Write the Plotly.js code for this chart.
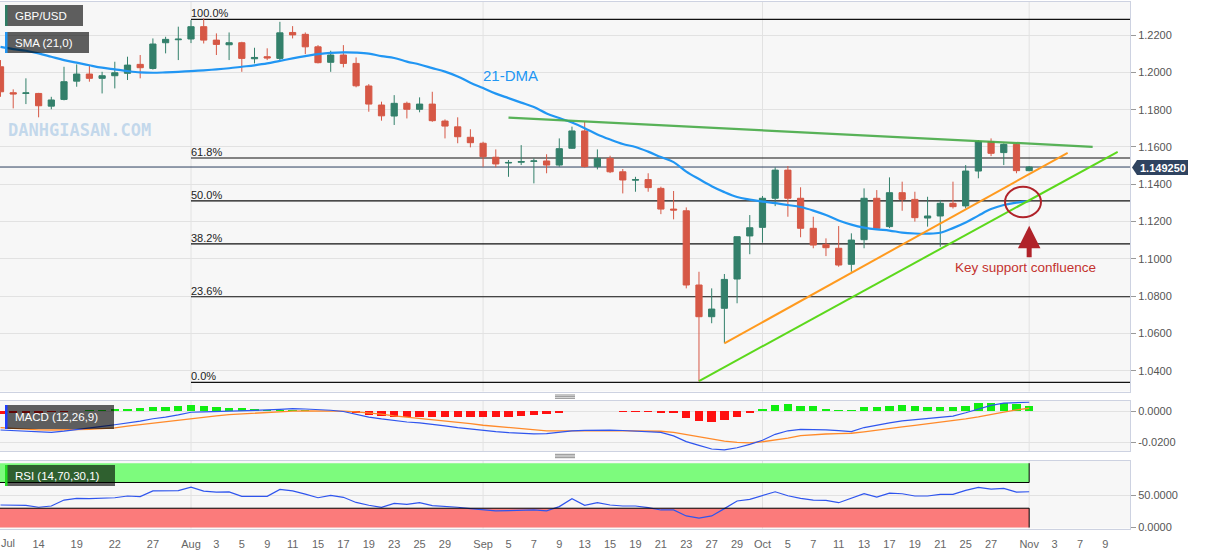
<!DOCTYPE html>
<html><head><meta charset="utf-8">
<script src="https://cdn.plot.ly/plotly-3.0.1.min.js"></script>
<style>html,body{margin:0;padding:0;background:#fff}#chart{width:1207px;height:555px}</style>
</head><body><div id="chart"></div>
<script>
// ---------- DATA ----------
const dates = [
 '2022-07-11','2022-07-12','2022-07-13','2022-07-14','2022-07-15','2022-07-18','2022-07-19','2022-07-20','2022-07-21','2022-07-22',
 '2022-07-25','2022-07-26','2022-07-27','2022-07-28','2022-07-29','2022-08-01','2022-08-02','2022-08-03','2022-08-04','2022-08-05',
 '2022-08-08','2022-08-09','2022-08-10','2022-08-11','2022-08-12','2022-08-15','2022-08-16','2022-08-17','2022-08-18','2022-08-19',
 '2022-08-22','2022-08-23','2022-08-24','2022-08-25','2022-08-26','2022-08-29','2022-08-30','2022-08-31','2022-09-01','2022-09-02',
 '2022-09-05','2022-09-06','2022-09-07','2022-09-08','2022-09-09','2022-09-12','2022-09-13','2022-09-14','2022-09-15','2022-09-16',
 '2022-09-19','2022-09-20','2022-09-21','2022-09-22','2022-09-23','2022-09-26','2022-09-27','2022-09-28','2022-09-29','2022-09-30',
 '2022-10-03','2022-10-04','2022-10-05','2022-10-06','2022-10-07','2022-10-10','2022-10-11','2022-10-12','2022-10-13','2022-10-14',
 '2022-10-17','2022-10-18','2022-10-19','2022-10-20','2022-10-21','2022-10-24','2022-10-25','2022-10-26','2022-10-27','2022-10-28',
 '2022-10-31','2022-11-01'];
const open = [1.2030,1.1891,1.1887,1.1887,1.1819,1.1855,1.1953,1.1991,1.1968,1.1982,
 1.1995,1.2043,1.2021,1.2159,1.2175,1.2179,1.2245,1.2173,1.2148,1.2159,
 1.2073,1.2084,1.2075,1.2214,1.2204,1.2137,1.2054,1.2093,1.2048,1.1927,
 1.1825,1.1766,1.1834,1.1802,1.1830,1.1739,1.1708,1.1652,1.1620,1.1545,
 1.1514,1.1518,1.1523,1.1525,1.1503,1.1593,1.1686,1.1495,1.1539,1.1467,
 1.1422,1.1425,1.1378,1.1267,1.1258,1.0860,1.0690,1.0735,1.0892,1.1123,
 1.1169,1.1325,1.1476,1.1325,1.1164,1.1078,1.1057,1.0971,1.1103,1.1325,
 1.1173,1.1355,1.1319,1.1219,1.1230,1.1298,1.1284,1.1471,1.1628,1.1570,
 1.1614,1.1473];
const high = [1.2066,1.1909,1.1968,1.1890,1.1869,1.2030,1.2043,1.2039,1.2003,1.2057,
 1.2084,1.2093,1.2182,1.2191,1.2245,1.2280,1.2290,1.2209,1.2214,1.2164,
 1.2132,1.2129,1.2271,1.2248,1.2214,1.2146,1.2116,1.2146,1.2080,1.1937,
 1.1843,1.1878,1.1843,1.1866,1.1896,1.1748,1.1759,1.1695,1.1628,1.1587,
 1.1530,1.1610,1.1539,1.1561,1.1646,1.1709,1.1735,1.1587,1.1553,1.1482,
 1.1440,1.1459,1.1387,1.1364,1.1276,1.0931,1.0842,1.0919,1.1119,1.1235,
 1.1337,1.1491,1.1498,1.1384,1.1226,1.1110,1.1176,1.1137,1.1378,1.1369,
 1.1437,1.1414,1.1360,1.1333,1.1316,1.1414,1.1503,1.1637,1.1646,1.1619,
 1.1619,1.1498];
const low = [1.1869,1.1807,1.1830,1.1759,1.1802,1.1850,1.1923,1.1950,1.1887,1.1914,
 1.1959,1.1968,1.2015,1.2102,1.2066,1.2157,1.2155,1.2093,1.2066,1.2003,
 1.2048,1.2066,1.2066,1.2182,1.2098,1.2048,1.2003,1.2027,1.1920,1.1789,
 1.1741,1.1718,1.1753,1.1786,1.1735,1.1646,1.1620,1.1598,1.1494,1.1491,
 1.1440,1.1503,1.1405,1.1459,1.1494,1.1590,1.1490,1.1480,1.1460,1.1351,
 1.1360,1.1360,1.1240,1.1212,1.0842,1.0342,1.0655,1.0548,1.0762,1.1025,
 1.1087,1.1283,1.1226,1.1116,1.1057,1.1015,1.0958,1.0931,1.1057,1.1155,
 1.1165,1.1258,1.1200,1.1173,1.1065,1.1270,1.1271,1.1432,1.1551,1.1503,
 1.1459,1.1470];
const close = [1.1896,1.1884,1.1890,1.1821,1.1852,1.1950,1.1991,1.1968,1.1982,1.1998,
 1.2039,1.2025,1.2152,1.2177,1.2178,1.2245,1.2173,1.2150,1.2159,1.2075,
 1.2080,1.2077,1.2212,1.2201,1.2137,1.2052,1.2093,1.2048,1.1928,1.1830,
 1.1767,1.1834,1.1802,1.1830,1.1741,1.1712,1.1655,1.1623,1.1548,1.1509,
 1.1517,1.1522,1.1525,1.1503,1.1591,1.1686,1.1495,1.1539,1.1467,1.1423,
 1.1425,1.1382,1.1267,1.1262,1.0860,1.0690,1.0731,1.0890,1.1119,1.1167,
 1.1325,1.1476,1.1325,1.1164,1.1074,1.1060,1.0967,1.1101,1.1325,1.1164,
 1.1355,1.1319,1.1221,1.1230,1.1298,1.1280,1.1471,1.1628,1.1566,1.1614,
 1.1473,1.14925];
const sma21 = [1.2137,1.2125,1.2116,1.2102,1.2084,1.2066,1.2052,1.2038,1.2025,1.2016,
 1.2007,1.2000,1.1998,1.2000,1.2003,1.2007,1.2011,1.2016,1.2022,1.2030,
 1.2038,1.2048,1.2062,1.2075,1.2087,1.2098,1.2105,1.2107,1.2106,1.2101,
 1.2087,1.2077,1.2058,1.2042,1.2023,1.2004,1.1978,1.1945,1.1916,1.1886,
 1.1862,1.1838,1.1814,1.1780,1.1755,1.1731,1.1701,1.1667,1.1640,1.1616,
 1.1600,1.1575,1.1546,1.1519,1.1468,1.1428,1.1390,1.1358,1.1332,1.1318,
 1.1307,1.1299,1.1289,1.1278,1.1259,1.1235,1.1206,1.1184,1.1168,1.1158,
 1.1152,1.1141,1.1136,1.1135,1.1140,1.1165,1.1195,1.1232,1.1267,1.1289,
 1.1302,1.1310];
const macdLine = [-0.0120,-0.0124,-0.0128,-0.0132,-0.0135,-0.0127,-0.0118,-0.0108,-0.0097,-0.0086,
 -0.0075,-0.0062,-0.0047,-0.0037,-0.0022,-0.0005,-0.0003,-0.0001,0.0001,0.0004,
 0.0007,0.0010,0.0014,0.0018,0.0016,0.0014,0.0008,0.0000,-0.0018,-0.0036,
 -0.0048,-0.0060,-0.0068,-0.0074,-0.0082,-0.0093,-0.0104,-0.0114,-0.0125,-0.0131,
 -0.0137,-0.0143,-0.0145,-0.0144,-0.0133,-0.0125,-0.0122,-0.0120,-0.0121,-0.0123,
 -0.0126,-0.0130,-0.0135,-0.0158,-0.0195,-0.0220,-0.0243,-0.0249,-0.0235,-0.0213,
 -0.0186,-0.0148,-0.0125,-0.0116,-0.0117,-0.0119,-0.0124,-0.0130,-0.0104,-0.0087,
 -0.0074,-0.0061,-0.0054,-0.0046,-0.0040,-0.0030,-0.0008,0.0018,0.0040,0.0054,
 0.0057,0.0060];
const signalLine = [-0.0105,-0.0111,-0.0116,-0.0119,-0.0120,-0.0120,-0.0119,-0.0116,-0.0111,-0.0106,
 -0.0095,-0.0085,-0.0075,-0.0068,-0.0056,-0.0044,-0.0036,-0.0028,-0.0020,-0.0015,
 -0.0009,-0.0004,0.0000,0.0002,0.0004,0.0005,0.0005,0.0003,-0.0002,-0.0008,
 -0.0017,-0.0028,-0.0036,-0.0044,-0.0052,-0.0060,-0.0069,-0.0079,-0.0089,-0.0097,
 -0.0104,-0.0112,-0.0119,-0.0125,-0.0126,-0.0127,-0.0126,-0.0125,-0.0124,-0.0124,
 -0.0125,-0.0126,-0.0128,-0.0135,-0.0150,-0.0162,-0.0178,-0.0192,-0.0200,-0.0203,
 -0.0196,-0.0186,-0.0173,-0.0156,-0.0150,-0.0146,-0.0143,-0.0141,-0.0132,-0.0120,
 -0.0110,-0.0100,-0.0090,-0.0080,-0.0070,-0.0060,-0.0048,-0.0035,-0.0018,-0.0004,
 0.0010,0.0021];
const macdHist = [-0.0018,-0.0012,-0.0010,-0.0008,-0.0005,-0.0002,0.0004,0.0007,0.0010,0.0013,
 0.0016,0.0022,0.0028,0.0032,0.0036,0.0040,0.0035,0.0030,0.0025,0.0020,
 0.0015,0.0012,0.0010,0.0009,0.0007,0.0005,0.0003,0.0001,-0.0012,-0.0021,
 -0.0028,-0.0034,-0.0037,-0.0035,-0.0034,-0.0034,-0.0035,-0.0036,-0.0037,-0.0037,
 -0.0034,-0.0029,-0.0025,-0.0018,-0.0007,0.0002,0.0001,0.0001,0.0001,-0.0001,
 -0.0001,-0.0004,-0.0010,-0.0012,-0.0040,-0.0062,-0.0070,-0.0057,-0.0035,-0.0010,
 0.0017,0.0040,0.0047,0.0038,0.0033,0.0017,0.0010,0.0011,0.0028,0.0029,
 0.0037,0.0040,0.0036,0.0032,0.0031,0.0031,0.0037,0.0052,0.0055,0.0057,
 0.0049,0.0038];
const rsi = [35,35,34.5,31.5,33.5,42.7,45.4,45,45.5,46.3,
 49,48,57,57.5,57.5,62.8,56.6,55,55.4,48.5,
 49,48.5,59.2,57,52,46.3,50,47,39,34.6,
 31.5,37.6,36,38.6,34,33,31.5,29.4,27.3,25.8,
 26.2,26.6,27.3,25.8,32.5,44.8,34.6,38.6,35,33.5,
 33.5,31,27.3,27.3,18,14.5,18,29.4,41.2,43.8,
 50,55.6,49.4,45.4,42.7,42.2,38.6,45.4,52.5,47.4,
 53.5,52.5,49,49,51.5,51.5,57.7,62.3,59.7,60.8,
 55,55.6];
const tickIdx  = [3,6,9,12,15,17,19,21,23,25,27,29,31,33,35,38,40,42,44,46,48,50,52,54,56,58,60,62,64,66,68,70,72,74,76,78,81,83,85,87];
const tickText = ['14','19','22','27','Aug','3','5','9','11','15','17','19','23','25','29','Sep','5','7','9','13','15','19','21','23','27','29','Oct','5','7','11','13','17','19','21','25','27','Nov','3','7','9'];
const firstMonthLabel = 'Jul';
const monthIdx = [15,38,60,81];
const fibLevels = [1.2284,1.1541,1.1311,1.1081,1.0797,1.0338];
const fibLabels = ['100.0%','61.8%','50.0%','38.2%','23.6%','0.0%'];
const fibStartIdx = 15;
const resistanceX = [40,86],    resistanceY = [1.1757,1.1601];
const supportOrX  = [57,84.03], supportOrY  = [1.0547,1.1569];
const supportGrX  = [55,87.97], supportGrY  = [1.0345,1.1574];
const lastPrice = 1.14925;

// ---------- LAYOUT HELPERS ----------
const W = 1130, H = 555;
const px = v => v / W, py = v => 1 - v / H;
const idx = dates.map((d, i) => i);
const dMain = [py(391.5), py(1.5)], dMacd = [py(451), py(401)], dRsi = [py(528.5), py(461)];
const FONT = 'Arial, "Liberation Sans", sans-serif';
const GREEN = '#33806b', RED = '#d65846';
const BORDER = '#cdd2e1', GRID = '#e2e2e2';

const traces = [
 {type:'candlestick', x:idx, open:open, high:high, low:low, close:close, xaxis:'x', yaxis:'y',
  increasing:{line:{color:GREEN,width:1}, fillcolor:GREEN},
  decreasing:{line:{color:RED,width:1}, fillcolor:RED}, hoverinfo:'skip'},
 {type:'scatter', mode:'lines', x:idx, y:sma21, line:{color:'#2196f3', width:2.2, shape:'spline'}, xaxis:'x', yaxis:'y'},
 {type:'scatter', mode:'lines', x:resistanceX, y:resistanceY, line:{color:'rgba(70,170,70,0.9)', width:2.2}, xaxis:'x', yaxis:'y'},
 {type:'scatter', mode:'lines', x:supportOrX, y:supportOrY, line:{color:'#ff9a1f', width:2}, xaxis:'x', yaxis:'y'},
 {type:'scatter', mode:'lines', x:supportGrX, y:supportGrY, line:{color:'#5cd81c', width:2}, xaxis:'x', yaxis:'y'},
 {type:'bar', x:idx, y:macdHist, width:0.66, marker:{color:macdHist.map(v => v >= 0 ? '#11ee11' : '#ff1111'), line:{width:0}}, xaxis:'x2', yaxis:'y2'},
 {type:'scatter', mode:'lines', x:idx, y:signalLine, line:{color:'#ff8a2a', width:1.3}, xaxis:'x2', yaxis:'y2'},
 {type:'scatter', mode:'lines', x:idx, y:macdLine, line:{color:'#2f55ee', width:1.2}, xaxis:'x2', yaxis:'y2'},
 {type:'scatter', mode:'lines', x:idx, y:rsi, line:{color:'#2f55ee', width:1.2}, xaxis:'x3', yaxis:'y3'}
];

const shapes = [];
[dMain, dMacd, dRsi].forEach(d => monthIdx.forEach(m => shapes.push({type:'line', xref:'x', yref:'paper', x0:m, x1:m, y0:d[0], y1:d[1], line:{color:GRID, width:1}, layer:'below'})));
fibLevels.forEach(l => shapes.push({type:'line', xref:'x', yref:'y', x0:fibStartIdx, x1:90, y0:l, y1:l, line:{color:'#111', width:1.2}, layer:'between'}));
shapes.push({type:'line', xref:'paper', yref:'y', x0:0, x1:1, y0:lastPrice, y1:lastPrice, line:{color:'#2c3f5e', width:1}, layer:'between'});
shapes.push({type:'circle', xref:'x', yref:'y', x0:79.1, x1:81.93, y0:1.1223, y1:1.1387, line:{color:'#b0232a', width:2}});
// RSI zones
shapes.push({type:'rect', xref:'x3', yref:'y3', x0:-1, x1:81, y0:70, y1:100, fillcolor:'#7dfb7d', line:{width:0}, layer:'between'});
shapes.push({type:'rect', xref:'x3', yref:'y3', x0:-1, x1:81, y0:0, y1:30, fillcolor:'#fb7b7b', line:{width:0}, layer:'between'});
shapes.push({type:'path', xref:'x3', yref:'y3', path:'M -1,70 L 81,70 L 81,100', line:{color:'#000', width:1}});
shapes.push({type:'path', xref:'x3', yref:'y3', path:'M -1,30 L 81,30 L 81,0', line:{color:'#000', width:1}});
// panel label boxes
const boxes = [[5,83,5,26,'#2e7d64'],[5,89,32,53,'#2196f3'],[5,114,405,429,'#1f3dff'],[5,115,465,486,'#22dd22']];
boxes.forEach(b => {
  shapes.push({type:'rect', xref:'paper', yref:'paper', x0:px(b[0]), x1:px(b[1]), y0:py(b[3]), y1:py(b[2]), fillcolor:'rgba(0,0,0,0.62)', line:{width:0}});
  shapes.push({type:'rect', xref:'paper', yref:'paper', x0:px(b[0]), x1:px(b[0]+2.5), y0:py(b[3]), y1:py(b[2]), fillcolor:b[4], line:{width:0}});
});
// grips
[395,396.7,398.3,454.3,456,457.7].forEach(y => shapes.push({type:'line', xref:'paper', yref:'paper', x0:px(555), x1:px(575), y0:py(y), y1:py(y), line:{color:'#8a8a8a', width:1}}));
// price tag
shapes.push({type:'path', xref:'paper', yref:'paper', path:`M ${px(1132)},${py(167.5)} L ${px(1137)},${py(160)} L ${px(1188)},${py(160)} L ${px(1188)},${py(175)} L ${px(1137)},${py(175)} Z`, fillcolor:'#2f4360', line:{width:0}});

const annotations = [];
fibLevels.forEach((l, k) => annotations.push({xref:'x', yref:'y', x:fibStartIdx, y:l, xanchor:'left', yanchor:'bottom', xshift:-2, yshift:-2, text:fibLabels[k], showarrow:false, font:{family:FONT, size:11, color:'#222'}}));
annotations.push({xref:'x', yref:'y', x:40.16, y:1.1983, xanchor:'center', yanchor:'middle', text:'21-DMA', showarrow:false, font:{family:FONT, size:15, color:'#2196f3'}});
annotations.push({xref:'x', yref:'y', x:80.7, y:1.0953, xanchor:'center', yanchor:'middle', text:'Key support confluence', showarrow:false, font:{family:FONT, size:13.5, color:'#c4322e'}});
annotations.push({xref:'x', yref:'y', x:81, y:1.1178, ax:0, ay:33, text:'', showarrow:true, arrowhead:2, arrowsize:0.9, arrowwidth:5, arrowcolor:'#b0232a'});
annotations.push({xref:'paper', yref:'paper', x:px(1162.5), y:py(167.5), xanchor:'center', yanchor:'middle', text:'<b>1.149250</b>', showarrow:false, font:{family:FONT, size:11, color:'#fff'}});
[['GBP/USD',15.5],['SMA (21,0)',42.5],['MACD (12,26,9)',417],['RSI (14,70,30,1)',475.5]].forEach(t =>
  annotations.push({xref:'paper', yref:'paper', x:px(13), y:py(t[1]), xanchor:'left', yanchor:'middle', text:t[0], showarrow:false, font:{family:FONT, size:11.5, color:'#fff'}}));
annotations.push({xref:'paper', yref:'paper', x:px(79), y:py(130), xanchor:'center', yanchor:'middle', text:'<b>DANHGIASAN.COM</b>', showarrow:false, font:{family:'"DejaVu Sans Mono", monospace', size:17, color:'rgba(160,195,228,0.6)'}});
annotations.push({xref:'paper', yref:'paper', x:px(7.5), y:py(542.5), xanchor:'center', yanchor:'middle', text:firstMonthLabel, showarrow:false, font:{family:FONT, size:11, color:'#666'}});

const xBase = {range:[-0.04, 88.94], showgrid:false, zeroline:false, showline:true, mirror:true, linecolor:BORDER, linewidth:1, fixedrange:true};
const yBase = {side:'right', showline:true, mirror:true, linecolor:BORDER, gridcolor:GRID, zeroline:false, ticks:'outside', ticklen:5, tickcolor:'#999',
  tickfont:{family:FONT, size:11, color:'#555'}};

const layout = {
  width:1207, height:555, margin:{l:0, r:77, t:0, b:0},
  paper_bgcolor:'#fff', plot_bgcolor:'#f7f7f7', showlegend:false, font:{family:FONT},
  xaxis: Object.assign({}, xBase, {anchor:'y', domain:[0,1], showticklabels:false, rangeslider:{visible:false}}),
  xaxis2: Object.assign({}, xBase, {anchor:'y2', matches:'x', showticklabels:false}),
  xaxis3: Object.assign({}, xBase, {anchor:'y3', matches:'x', tickmode:'array', tickvals:tickIdx, ticktext:tickText, ticks:'', ticklabelstandoff:5,
     tickfont:{family:FONT, size:11, color:'#666'}}),
  yaxis: Object.assign({}, yBase, {anchor:'x', domain:dMain, range:[1.0289, 1.2380], tick0:1.04, dtick:0.02, tickformat:'.4f'}),
  yaxis2: Object.assign({}, yBase, {anchor:'x2', domain:dMacd, range:[-0.0256, 0.0068], tickmode:'array', tickvals:[0,-0.02], ticktext:['0.0000','-0.0200']}),
  yaxis3: Object.assign({}, yBase, {anchor:'x3', domain:dRsi, range:[-1.5, 103.4], tickmode:'array', tickvals:[0,50], ticktext:['0.0000','50.0000']}),
  bargap:0, shapes:shapes, annotations:annotations
};
Plotly.newPlot('chart', traces, layout, {displayModeBar:false, staticPlot:true});
</script></body></html>
